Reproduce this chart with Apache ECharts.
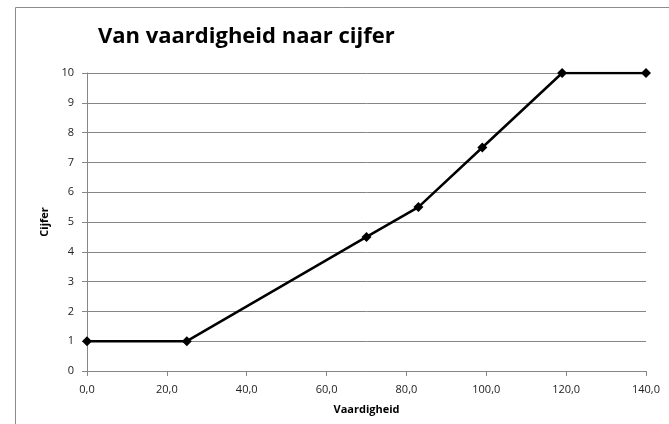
<!DOCTYPE html>
<html>
<head>
<meta charset="utf-8">
<script src="https://cdn.jsdelivr.net/npm/echarts@6/dist/echarts.min.js"></script>
<style>
html,body{margin:0;padding:0;background:#fff;}
#chart{width:669px;height:424px;}
</style>
</head>
<body>
<div id="chart"></div>
<script>
const titleText = "Van vaardigheid naar cijfer";
const xName = "Vaardigheid";
const yName = "Cijfer";
const vaardigheid = [0, 25, 70, 83, 99, 119, 140];
const cijfer = [1, 1, 4.5, 5.5, 7.5, 10, 10];

const chart = echarts.init(document.getElementById('chart'));
const points = vaardigheid.map((v, i) => [v, cijfer[i]]);
chart.setOption({
  animation: false,
  graphic: [{
    type: 'rect', silent: true,
    shape: {x: 15.5, y: 7.5, width: 800, height: 600},
    style: {fill: 'none', stroke: '#8c8c8c', lineWidth: 1}
  }],
  title: {
    text: titleText, left: 93, top: 21,
    textStyle: {fontFamily: 'Open Sans', fontWeight: 'bold', fontSize: 22, color: '#000'}
  },
  grid: {left: 87, right: 23, top: 73, bottom: 53},
  xAxis: {
    type: 'value', min: 0, max: 140, interval: 20,
    name: xName, nameLocation: 'middle', nameGap: 33,
    nameTextStyle: {fontFamily: 'Open Sans', fontWeight: 'bold', fontSize: 11, color: '#000'},
    axisLine: {show: true, lineStyle: {color: '#868686', width: 1}},
    axisTick: {show: true, length: 5, lineStyle: {color: '#868686'}},
    axisLabel: {fontFamily: 'Open Sans', fontSize: 11, color: '#222', margin: 13,
      formatter: v => v.toFixed(1).replace('.', ',')},
    splitLine: {show: false}
  },
  yAxis: {
    type: 'value', min: 0, max: 10, interval: 1,
    name: yName, nameLocation: 'middle', nameGap: 33, nameRotate: 90,
    nameTextStyle: {fontFamily: 'Open Sans', fontWeight: 'bold', fontSize: 11, color: '#000'},
    axisLine: {show: true, lineStyle: {color: '#868686', width: 1}},
    axisTick: {show: true, length: 5, lineStyle: {color: '#868686'}},
    axisLabel: {fontFamily: 'Open Sans', fontSize: 11, color: '#222', margin: 13},
    splitLine: {show: true, lineStyle: {color: '#868686', width: 1}}
  },
  series: [{
    type: 'line', data: points,
    symbol: 'diamond', symbolSize: 10,
    lineStyle: {color: '#000', width: 2.5},
    itemStyle: {color: '#000'}
  }]
});
</script>
</body>
</html>
